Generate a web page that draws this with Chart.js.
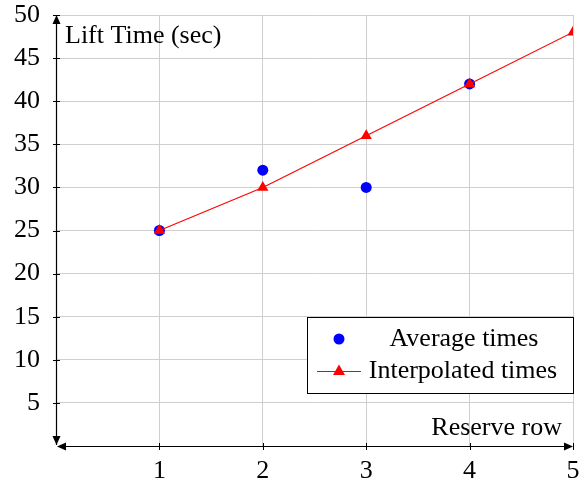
<!DOCTYPE html>
<html>
<head>
<meta charset="utf-8">
<script src="https://cdn.jsdelivr.net/npm/chart.js@4"></script>
<style>
html,body{margin:0;padding:0;background:#fff;}
#wrap{width:581px;height:485px;position:relative;}
</style>
</head>
<body>
<div id="wrap"><canvas id="c" width="581" height="485"></canvas></div>
<script>
const reserveRows = [1, 2, 3, 4];
const averageTimes = [25, 32, 30, 42];
const interpRows = [1, 2, 3, 4, 5];
const interpolatedTimes = [25, 30, 36, 42, 48];
const xTicks = [1, 2, 3, 4, 5];
const yTicks = [5, 10, 15, 20, 25, 30, 35, 40, 45, 50];
const xTitle = 'Reserve row';
const yTitle = 'Lift Time (sec)';
const legendLabels = ['Average times', 'Interpolated times'];

const FONT = 'Liberation Serif';
const FS = 26;

function arrow(ctx, x, y, dir) {
  const L = 9, W = 4;
  ctx.beginPath();
  if (dir === 'up') { ctx.moveTo(x, y); ctx.lineTo(x - W, y + L); ctx.lineTo(x + W, y + L); }
  if (dir === 'down') { ctx.moveTo(x, y); ctx.lineTo(x - W, y - L); ctx.lineTo(x + W, y - L); }
  if (dir === 'left') { ctx.moveTo(x, y); ctx.lineTo(x + L, y - W); ctx.lineTo(x + L, y + W); }
  if (dir === 'right') { ctx.moveTo(x, y); ctx.lineTo(x - L, y - W); ctx.lineTo(x - L, y + W); }
  ctx.closePath();
  ctx.fill();
}

const decor = {
  id: 'decor',
  afterDatasetsDraw(chart) {
    const ctx = chart.ctx;
    const xs = chart.scales.x, ys = chart.scales.y;
    const x0 = xs.getPixelForValue(0), y0 = ys.getPixelForValue(0);
    const x5 = xs.getPixelForValue(5), y50 = ys.getPixelForValue(50);
    ctx.save();
    ctx.strokeStyle = '#000';
    ctx.fillStyle = '#000';
    ctx.lineWidth = 1.2;
    ctx.beginPath();
    ctx.moveTo(x0 + 0.5, y0 - 1); ctx.lineTo(x0 + 0.5, y50 + 2);
    ctx.moveTo(x0 + 2, y0 + 0.5); ctx.lineTo(x5 - 2, y0 + 0.5);
    ctx.stroke();
    arrow(ctx, x0 + 0.5, y50, 'up');
    arrow(ctx, x0 + 0.5, y0 - 1, 'down');
    arrow(ctx, x0 + 1, y0 + 0.5, 'left');
    arrow(ctx, x5, y0 + 0.5, 'right');
    ctx.lineWidth = 1;
    ctx.beginPath();
    yTicks.forEach(v => { const p = Math.round(ys.getPixelForValue(v)) + 0.5; ctx.moveTo(x0 - 3, p); ctx.lineTo(x0 + 4, p); });
    xTicks.forEach(v => { const p = Math.round(xs.getPixelForValue(v)) + 0.5; ctx.moveTo(p, y0 - 3); ctx.lineTo(p, y0 + 4); });
    ctx.stroke();
    ctx.font = FS + 'px "' + FONT + '"';
    ctx.textBaseline = 'middle';
    ctx.textAlign = 'left';
    ctx.fillText(yTitle, x0 + 9, y50 + 21);
    ctx.textAlign = 'right';
    ctx.fillText(xTitle, x5 - 11, y0 - 18);
    const bx = 307.5, by = 317.5, bw = 266, bh = 76;
    ctx.fillStyle = '#fff';
    ctx.fillRect(bx, by, bw, bh);
    ctx.strokeStyle = '#000';
    ctx.lineWidth = 1;
    ctx.strokeRect(bx, by, bw, bh);
    ctx.fillStyle = '#0000ff';
    ctx.beginPath(); ctx.arc(339, 339, 5.5, 0, Math.PI * 2); ctx.fill();
    ctx.strokeStyle = '#ff0000';
    ctx.lineWidth = 1.1;
    ctx.beginPath(); ctx.moveTo(317, 371.5); ctx.lineTo(361, 371.5); ctx.stroke();
    ctx.fillStyle = '#ff0000';
    ctx.beginPath(); ctx.moveTo(339, 364.5); ctx.lineTo(333, 375); ctx.lineTo(345, 375); ctx.closePath(); ctx.fill();
    ctx.fillStyle = '#000';
    ctx.textAlign = 'center';
    ctx.fillText(legendLabels[0], 464, 339);
    ctx.fillText(legendLabels[1], 463, 371);
    ctx.restore();
  }
};

const gridColor = c => (c.tick && c.tick.value === 0) ? 'rgba(0,0,0,0)' : '#cfcfcf';
const zeroPad = s => { s.paddingTop = 0; s.paddingBottom = 0; s.paddingLeft = 0; s.paddingRight = 0; };

new Chart(document.getElementById('c'), {
  type: 'scatter',
  data: {
    datasets: [
      {
        label: legendLabels[1],
        data: interpRows.map((x, i) => ({ x, y: interpolatedTimes[i] })),
        showLine: true,
        borderColor: '#ff0000',
        borderWidth: 1.1,
        backgroundColor: '#ff0000',
        pointStyle: 'triangle',
        pointRadius: 6.5,
        pointBorderWidth: 0,
        order: 0
      },
      {
        label: legendLabels[0],
        data: reserveRows.map((x, i) => ({ x, y: averageTimes[i] })),
        showLine: false,
        backgroundColor: '#0000ff',
        borderColor: '#0000ff',
        pointRadius: 5.5,
        pointBorderWidth: 0,
        order: 1
      }
    ]
  },
  options: {
    responsive: false,
    animation: false,
    events: [],
    layout: { padding: { top: 15, right: 8, left: 0, bottom: 0 } },
    plugins: { legend: { display: false }, tooltip: { enabled: false } },
    scales: {
      x: {
        type: 'linear', min: 0, max: 5,
        border: { display: false },
        grid: { color: gridColor, drawTicks: false, lineWidth: 1 },
        ticks: {
          stepSize: 1, padding: 10, color: '#000',
          font: { family: FONT, size: FS },
          callback: v => xTicks.includes(v) ? String(v) : ''
        },
        afterFit: s => { s.height = 39; zeroPad(s); }
      },
      y: {
        type: 'linear', min: 0, max: 50,
        border: { display: false },
        grid: { color: gridColor, drawTicks: false, lineWidth: 1 },
        ticks: {
          stepSize: 5, padding: 16, color: '#000',
          font: { family: FONT, size: FS },
          callback: v => yTicks.includes(v) ? String(v) : ''
        },
        afterFit: s => { s.width = 56; zeroPad(s); }
      }
    }
  },
  plugins: [decor]
});
</script>
</body>
</html>
